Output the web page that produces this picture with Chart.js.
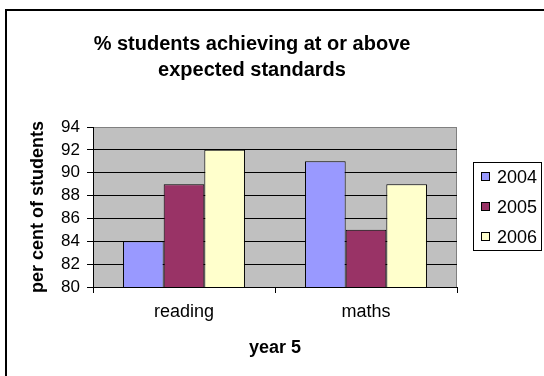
<!DOCTYPE html>
<html>
<head>
<meta charset="utf-8">
<script src="https://cdn.jsdelivr.net/npm/chart.js@4/dist/chart.umd.min.js"></script>
<style>
  html, body { margin: 0; padding: 0; background: #fff; }
  canvas { display: block; }
</style>
</head>
<body>
<canvas id="chart" width="544" height="376"></canvas>
<script>
/* ------------- DATA ------------- */
const categories = ["reading", "maths"];
const years      = ["2004", "2005", "2006"];
const values2004 = [84, 91];
const values2005 = [89, 85];
const values2006 = [92, 89];
const yTicks     = [80, 82, 84, 86, 88, 90, 92, 94];

const colors = ["#9999FF", "#993366", "#FFFFCC"];
const FONT = "'Liberation Sans', Arial, sans-serif";

/* ---------- frame, plot background, legend ---------- */
const excelLook = {
  id: "excelLook",
  beforeDraw(chart){
    const {ctx, chartArea: a} = chart;
    ctx.save();
    ctx.fillStyle = "#C0C0C0";
    ctx.fillRect(a.left, a.top, a.right - a.left, a.bottom - a.top);
    ctx.strokeStyle = "#808080";
    ctx.lineWidth = 1;
    ctx.strokeRect(a.left + 0.5, a.top + 0.5, a.right - a.left - 1, a.bottom - a.top);
    // outer frame (only left and top visible)
    ctx.strokeStyle = "#000";
    ctx.lineWidth = 2;
    ctx.strokeRect(6, 10, 700, 500);
    ctx.restore();
  },
  afterDraw(chart){
    const {ctx} = chart;
    const box = {x: 473.5, y: 162.5, w: 68, h: 88};
    ctx.save();
    ctx.strokeStyle = "#000";
    ctx.lineWidth = 1;
    ctx.strokeRect(box.x, box.y, box.w, box.h);
    ctx.font = "18px " + FONT;
    ctx.textBaseline = "middle";
    chart.data.datasets.forEach((ds, i) => {
      const cy = 177 + i * 30;
      ctx.fillStyle = ds.backgroundColor;
      ctx.fillRect(481, cy - 5, 9, 9);
      ctx.strokeRect(481.5, cy - 4.5, 8, 8);
      ctx.fillStyle = "#000";
      ctx.fillText(ds.label, 497, cy + 1);
    });
    ctx.restore();
  }
};

new Chart(document.getElementById("chart").getContext("2d"), {
  type: "bar",
  data: {
    labels: categories,
    datasets: [
      {label: years[0], data: values2004, backgroundColor: colors[0]},
      {label: years[1], data: values2005, backgroundColor: colors[1]},
      {label: years[2], data: values2006, backgroundColor: colors[2]},
    ].map(d => Object.assign(d, {
      borderColor: "#000", borderWidth: 1,
      categoryPercentage: 0.67, barPercentage: 1
    }))
  },
  options: {
    responsive: false,
    animation: false,
    devicePixelRatio: 1,
    layout: {padding: {left: 0, right: 40, top: 18, bottom: 14}},
    plugins: {
      legend: {display: false},
      tooltip: {enabled: false},
      title: {
        display: true,
        text: ["% students achieving at or above", "expected standards"],
        color: "#000",
        font: {family: FONT, size: 20, weight: "bold", lineHeight: 1.3},
        padding: {top: 13, bottom: 44}
      }
    },
    scales: {
      x: {
        offset: true,
        grid: {display: true, drawOnChartArea: false, drawTicks: true, tickLength: 6, color: "#000", offset: true},
        border: {display: true, color: "#000", width: 1},
        ticks: {color: "#000", font: {family: FONT, size: 18}, padding: 8},
        title: {display: true, text: "year 5", color: "#000",
                font: {family: FONT, size: 18, weight: "bold"}, padding: {top: 0, bottom: 3}},
        afterFit: s => { s.height = 75; }
      },
      y: {
        min: yTicks[0],
        max: yTicks[yTicks.length - 1],
        afterBuildTicks: s => { s.ticks = yTicks.map(v => ({value: v})); },
        grid: {
          color: c => (c.tick && c.tick.value === yTicks[yTicks.length - 1]) ? "#808080" : "#000",
          tickColor: "#000", tickLength: 6, drawTicks: true
        },
        border: {display: true, color: "#000", width: 1},
        ticks: {color: "#000", font: {family: FONT, size: 17}, padding: 7, autoSkip: false},
        title: {display: true, text: "per cent of students", color: "#000",
                font: {family: FONT, size: 18, weight: "bold"}, padding: {top: 27, bottom: 0}},
        afterFit: s => { s.width = 93; }
      },
      spacer: {
        position: "right",
        display: true,
        grid: {display: false, drawTicks: false},
        border: {display: false},
        ticks: {display: false},
        afterFit: s => { s.width = 47; }
      }
    }
  },
  plugins: [excelLook]
});
</script>
</body>
</html>
